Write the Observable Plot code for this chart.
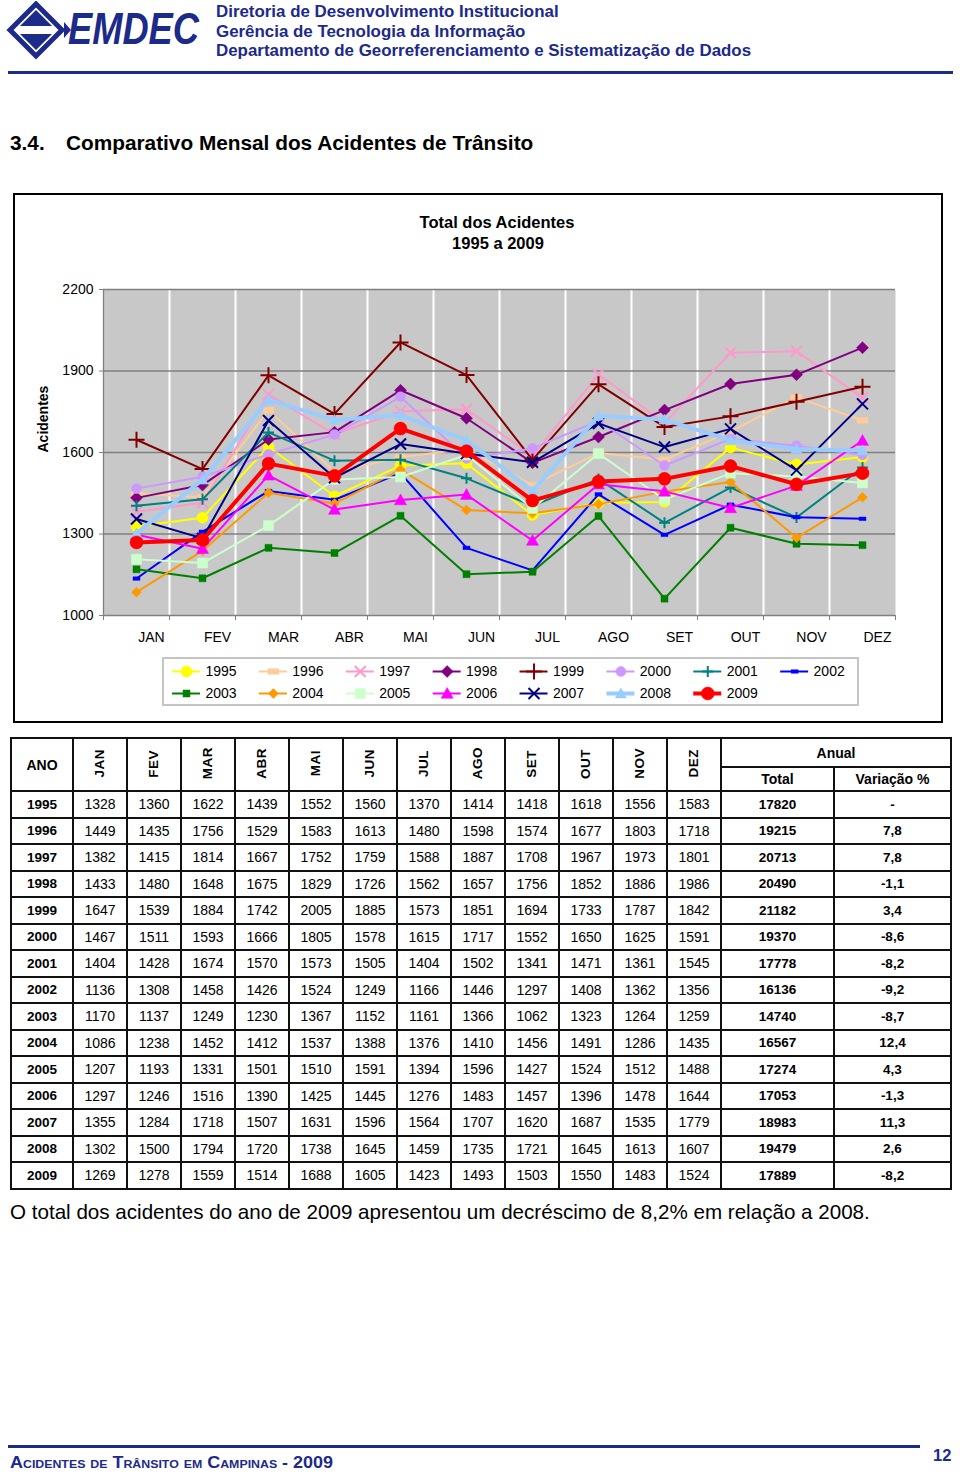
<!DOCTYPE html>
<html><head><meta charset="utf-8">
<script src="https://cdn.jsdelivr.net/npm/d3@7"></script>
<script src="https://cdn.jsdelivr.net/npm/@observablehq/plot@0.6"></script>
<style>
body{margin:0;background:#fff;font-family:"Liberation Sans",Arial,sans-serif;color:#000;}
#page{position:relative;width:960px;height:1475px;overflow:hidden;background:#fff;}
.abs{position:absolute;white-space:nowrap;line-height:1;}
.blue{color:#1c2a8a;}
table.tbl{position:absolute;left:10px;top:737px;width:940px;border-collapse:collapse;table-layout:fixed;font-family:"Liberation Sans",Arial,sans-serif;}
table.tbl td, table.tbl th{border:2px solid #111;text-align:center;padding:0;font-size:14px;line-height:1;}
table.tbl th{font-weight:bold;font-size:14px;}
table.tbl tr.data{height:26.5px;}
table.tbl td.yr, table.tbl td.tot, table.tbl td.var{font-weight:bold;font-size:13.5px;}
table.tbl th.mh span{display:inline-block;writing-mode:vertical-rl;transform:rotate(180deg);font-size:13.5px;letter-spacing:0.5px;}
</style></head><body><div id="page"></div>
<script>
// ---------- DATA ----------
const months = ["JAN","FEV","MAR","ABR","MAI","JUN","JUL","AGO","SET","OUT","NOV","DEZ"];
const years = [1995,1996,1997,1998,1999,2000,2001,2002,2003,2004,2005,2006,2007,2008,2009];
const acid1995 = [1328,1360,1622,1439,1552,1560,1370,1414,1418,1618,1556,1583];
const acid1996 = [1449,1435,1756,1529,1583,1613,1480,1598,1574,1677,1803,1718];
const acid1997 = [1382,1415,1814,1667,1752,1759,1588,1887,1708,1967,1973,1801];
const acid1998 = [1433,1480,1648,1675,1829,1726,1562,1657,1756,1852,1886,1986];
const acid1999 = [1647,1539,1884,1742,2005,1885,1573,1851,1694,1733,1787,1842];
const acid2000 = [1467,1511,1593,1666,1805,1578,1615,1717,1552,1650,1625,1591];
const acid2001 = [1404,1428,1674,1570,1573,1505,1404,1502,1341,1471,1361,1545];
const acid2002 = [1136,1308,1458,1426,1524,1249,1166,1446,1297,1408,1362,1356];
const acid2003 = [1170,1137,1249,1230,1367,1152,1161,1366,1062,1323,1264,1259];
const acid2004 = [1086,1238,1452,1412,1537,1388,1376,1410,1456,1491,1286,1435];
const acid2005 = [1207,1193,1331,1501,1510,1591,1394,1596,1427,1524,1512,1488];
const acid2006 = [1297,1246,1516,1390,1425,1445,1276,1483,1457,1396,1478,1644];
const acid2007 = [1355,1284,1718,1507,1631,1596,1564,1707,1620,1687,1535,1779];
const acid2008 = [1302,1500,1794,1720,1738,1645,1459,1735,1721,1645,1613,1607];
const acid2009 = [1269,1278,1559,1514,1688,1605,1423,1493,1503,1550,1483,1524];
const totals = [17820,19215,20713,20490,21182,19370,17778,16136,14740,16567,17274,17053,18983,19479,17889];
const variacoes = ["-","7,8","7,8","-1,1","3,4","-8,6","-8,2","-9,2","-8,7","12,4","4,3","-1,3","11,3","2,6","-8,2"];
const yTicks = [1000,1300,1600,1900,2200];
const series = [acid1995,acid1996,acid1997,acid1998,acid1999,acid2000,acid2001,acid2002,acid2003,acid2004,acid2005,acid2006,acid2007,acid2008,acid2009];

// ---------- STYLES ----------
const S = (f)=>({draw(c,s){const r=Math.sqrt(s/Math.PI); f(c,r);}});
const symbols = {
  circle: S((c,r)=>{c.moveTo(r,0);c.arc(0,0,r,0,2*Math.PI);}),
  square: S((c,r)=>{c.rect(-r,-r,2*r,2*r);}),
  diamond: S((c,r)=>{c.moveTo(0,-r);c.lineTo(r,0);c.lineTo(0,r);c.lineTo(-r,0);c.closePath();}),
  triangle: S((c,r)=>{c.moveTo(0,-r);c.lineTo(r,r*0.8);c.lineTo(-r,r*0.8);c.closePath();}),
  dash: S((c,r)=>{c.rect(-r,-r*0.5,2*r,r);}),
  plus: S((c,r)=>{c.moveTo(-r,0);c.lineTo(r,0);c.moveTo(0,-r);c.lineTo(0,r);}),
  times: S((c,r)=>{c.moveTo(-r,-r);c.lineTo(r,r);c.moveTo(-r,r);c.lineTo(r,-r);})
};
const styles = [
  {color:"#FFFF00", sym:"circle",   r:5.5, w:2,   fill:true},
  {color:"#FFCC99", sym:"dash",     r:5.5, w:2,   fill:true},
  {color:"#FF99CC", sym:"times",    r:5.5, w:2,   fill:false},
  {color:"#800080", sym:"diamond",  r:6,   w:2,   fill:true},
  {color:"#800000", sym:"plus",     r:8,   w:2,   fill:false},
  {color:"#CC99FF", sym:"circle",   r:5,   w:2,   fill:true},
  {color:"#008080", sym:"plus",     r:5.5, w:2,   fill:false},
  {color:"#0000FF", sym:"dash",     r:3.5, w:2,   fill:true},
  {color:"#008000", sym:"square",   r:3.5, w:2,   fill:true},
  {color:"#FF9900", sym:"diamond",  r:5,   w:2,   fill:true},
  {color:"#CCFFCC", sym:"square",   r:5,   w:2,   fill:true},
  {color:"#FF00FF", sym:"triangle", r:6,   w:2,   fill:true},
  {color:"#000080", sym:"times",    r:5.5, w:2,   fill:false},
  {color:"#99CCFF", sym:"triangle", r:5.5, w:4,   fill:true},
  {color:"#FF0000", sym:"circle",   r:6.5, w:4,   fill:true}
];
const FONT = '"Liberation Sans", Arial, sans-serif';
const page = document.getElementById("page");

function addText(txt, o){
  const d = document.createElement("div");
  d.className = "abs" + (o.cls ? " "+o.cls : "");
  d.textContent = txt;
  d.style.left = o.left+"px"; d.style.top = o.top+"px";
  d.style.fontSize = o.size+"px";
  if (o.bold) d.style.fontWeight = "bold";
  if (o.italic) d.style.fontStyle = "italic";
  if (o.color) d.style.color = o.color;
  if (o.variant) d.style.fontVariant = o.variant;
  if (o.center){ d.style.transform = "translateX(-50%)"; }
  page.appendChild(d);
  if (o.fit){ const w = d.getBoundingClientRect().width; d.style.transformOrigin="0 0"; d.style.transform = `scaleX(${o.fit/w})`; }
  return d;
}
function addBox(o){
  const d = document.createElement("div");
  d.style.position="absolute"; d.style.left=o.left+"px"; d.style.top=o.top+"px";
  d.style.width=o.width+"px"; d.style.height=o.height+"px";
  d.style.boxSizing="border-box";
  if (o.border) d.style.border=o.border;
  if (o.bg) d.style.background=o.bg;
  page.appendChild(d); return d;
}

// ---------- HEADER ----------
const logo = document.createElementNS("http://www.w3.org/2000/svg","svg");
logo.setAttribute("width","66"); logo.setAttribute("height","60");
logo.style.position="absolute"; logo.style.left="6px"; logo.style.top="1px";
logo.innerHTML = `<polygon points="30,3 56,29 30,55 4,29" fill="#fff" stroke="#1c2a8a" stroke-width="5"/>
<polygon points="30,9 46,25 14,25" fill="#1c2a8a"/><polygon points="14,33 46,33 30,49" fill="#1c2a8a"/>
<polygon points="58,21 65,29 58,37" fill="#1c2a8a"/>`;
page.appendChild(logo);
addText("EMDEC",{left:68,top:6,size:45,bold:true,italic:true,cls:"blue",fit:131});
addText("Diretoria de Desenvolvimento Institucional",{left:216,top:3.5,size:16.9,bold:true,cls:"blue"});
addText("Gerência de Tecnologia da Informação",{left:216,top:23.5,size:16.9,bold:true,cls:"blue"});
addText("Departamento de Georreferenciamento e Sistematização de Dados",{left:216,top:42.5,size:16.9,bold:true,cls:"blue"});
addBox({left:8,top:71,width:945,height:2.5,bg:"#1c2a8a"});

addText("3.4.",{left:10,top:133,size:20.8,bold:true});
addText("Comparativo Mensal dos Acidentes de Trânsito",{left:66,top:133,size:20.8,bold:true});

// ---------- CHART BOX ----------
addBox({left:13,top:193,width:930,height:530,border:"2px solid #000"});
addText("Total dos Acidentes",{left:497,top:213.5,size:16.5,bold:true,center:true});
addText("1995 a 2009",{left:498,top:234.5,size:16.5,bold:true,center:true});

const monthIdx = months.map((m,i)=>i);
const edges = d3.range(months.length+1).map(i=>i-0.5);
const inner = edges.slice(1,-1);

const seriesMarks = [];
series.forEach((vals,k)=>{
  const st = styles[k];
  const rows = vals.map((v,i)=>({i, v}));
  seriesMarks.push(Plot.line(rows,{x:"i",y:"v",stroke:st.color,strokeWidth:st.w,strokeLinejoin:"round"}));
  seriesMarks.push(Plot.dot(rows,{x:"i",y:"v",symbol:symbols[st.sym],r:st.r,
    fill: st.fill ? st.color : "none", stroke: st.color, strokeWidth: st.fill ? 0.5 : 2}));
});

const chart = Plot.plot({
  width:960, height:380,
  marginLeft:103, marginRight:65, marginTop:19, marginBottom:35,
  style:{fontFamily:FONT, fontSize:"14px", color:"#000", background:"transparent", overflow:"visible"},
  x:{type:"linear", domain:[-0.5, months.length-0.5]},
  y:{domain:[1000,2200]},
  marks:[
    Plot.frame({fill:"#c8c8c8", stroke:"none"}),
    Plot.ruleX(inner,{stroke:"#ffffff",strokeWidth:2}),
    Plot.ruleY(yTicks.slice(1),{stroke:"#808080",strokeWidth:1.3}),
    Plot.ruleY([1000],{stroke:"#808080",strokeWidth:1.3}),
    Plot.ruleX([-0.5],{stroke:"#808080",strokeWidth:1.3}),
    Plot.axisY({ticks:yTicks,tickSize:4,tickPadding:6,label:null,tickFormat:d=>`${d}`,stroke:"#808080"}),
    Plot.axisX({ticks:monthIdx,tickSize:0,tickPadding:17,dx:15,tickFormat:i=>months[i],label:null}),
    Plot.axisX({ticks:edges,tickSize:5,tickFormat:()=>"",label:null,stroke:"#808080"}),
    Plot.text(["Acidentes"],{text:d=>d,frameAnchor:"left",dx:-60,rotate:-90,fontWeight:"bold",fontSize:14}),
    ...seriesMarks
  ]
});
chart.style.position="absolute"; chart.style.left="0px"; chart.style.top="270px";
page.appendChild(chart);

// ---------- LEGEND ----------
addBox({left:162,top:657,width:697,height:49,border:"2px solid #c4c4c4"});
const legendRows = years.map((yr,k)=>({yr, k, col:k%8, row:Math.floor(k/8)}));
const legendMarks = [];
legendRows.forEach(d=>{
  const st = styles[d.k];
  legendMarks.push(Plot.ruleY([d],{x1:e=>e.col+0.104,x2:e=>e.col+0.426,y:"row",stroke:st.color,strokeWidth:st.w}));
  legendMarks.push(Plot.dot([d],{x:e=>e.col+0.265,y:"row",symbol:symbols[st.sym],r:st.r,
    fill: st.fill ? st.color : "none", stroke: st.color, strokeWidth: st.fill ? 0.5 : 2}));
  legendMarks.push(Plot.text([d],{x:e=>e.col+0.483,y:"row",text:e=>`${e.yr}`,textAnchor:"start",fontSize:14}));
});
const legend = Plot.plot({
  width:695, height:47, margin:0, marginTop:13, marginBottom:12,
  style:{fontFamily:FONT, fontSize:"14px", color:"#000", background:"transparent", overflow:"visible"},
  x:{domain:[0,8], axis:null}, y:{domain:[0,1], reverse:true, axis:null},
  marks: legendMarks
});
legend.style.position="absolute"; legend.style.left="163px"; legend.style.top="658px";
page.appendChild(legend);

// ---------- TABLE ----------
const tbl = document.createElement("table");
tbl.className="tbl";
let html = '<colgroup><col style="width:62px">' + months.map(()=>'<col style="width:54px">').join('') +
  '<col style="width:113px"><col style="width:117px"></colgroup>';
html += `<tr style="height:29px"><th rowspan="2">ANO</th>${months.map(m=>`<th rowspan="2" class="mh"><span>${m}</span></th>`).join('')}<th colspan="2">Anual</th></tr>`;
html += `<tr style="height:24px"><th>Total</th><th>Variação %</th></tr>`;
years.forEach((yr,k)=>{
  html += `<tr class="data"><td class="yr">${yr}</td>${series[k].map(v=>`<td>${v}</td>`).join('')}<td class="tot">${totals[k]}</td><td class="var">${variacoes[k]}</td></tr>`;
});
tbl.innerHTML = html;
page.appendChild(tbl);

// ---------- CAPTION & FOOTER ----------
addText("O total dos acidentes do ano de 2009 apresentou um decréscimo de 8,2% em relação a 2008.",{left:10,top:1202,size:20.6});
addBox({left:8,top:1445,width:912,height:2.5,bg:"#1c2a8a"});
addText("Acidentes de Trânsito em Campinas - 2009",{left:10,top:1455,size:16,bold:true,cls:"blue",variant:"small-caps",fit:323});
addText("12",{left:933,top:1447,size:16.5,bold:true,cls:"blue"});
</script></body></html>
